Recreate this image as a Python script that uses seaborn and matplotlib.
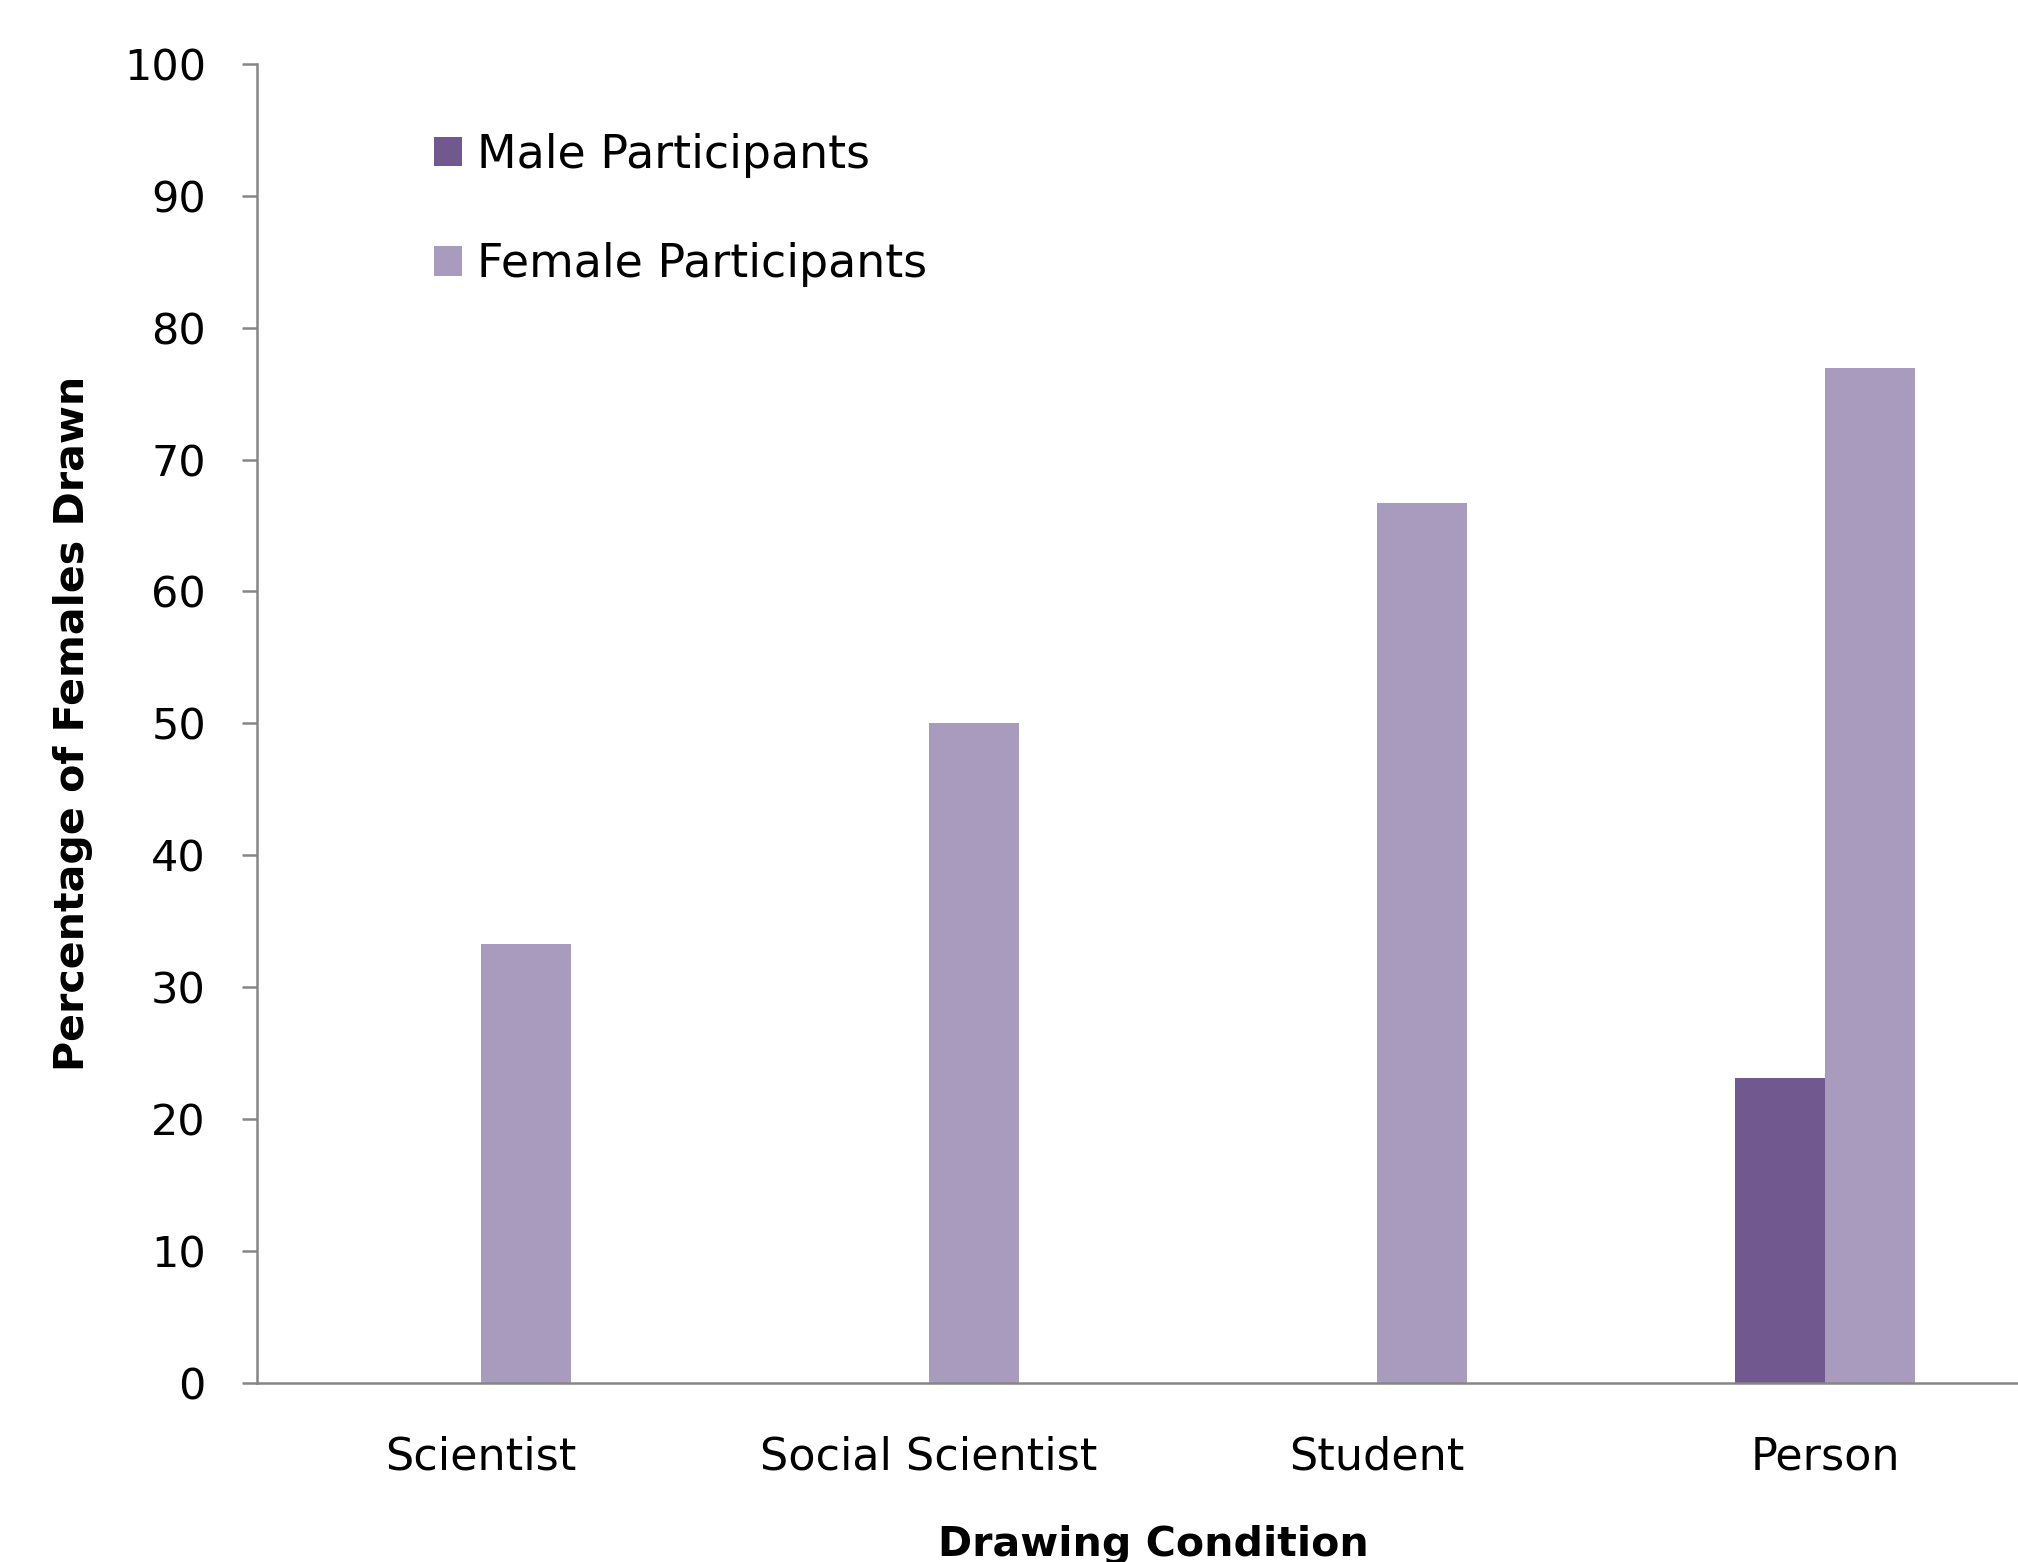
import pandas as pd
import matplotlib
matplotlib.use('Agg')
import matplotlib.pyplot as plt
import seaborn as sns

# %%
conditions = ['Scientist', 'Social Scientist', 'Student', 'Person']
male_pct = [0, 0, 0, 23.1]
female_pct = [33.3, 50, 66.7, 76.9]
groups = ['Male Participants', 'Female Participants']
colors = ['#71588F', '#A99BBD']

df = pd.DataFrame({
    'condition': conditions * 2,
    'pct': male_pct + female_pct,
    'group': [groups[0]] * len(conditions) + [groups[1]] * len(conditions),
})

# %%
sns.set_style('white')
plt.rcParams['font.family'] = ['DejaVu Sans']
plt.rcParams['text.color'] = 'black'
plt.rcParams['axes.labelcolor'] = 'black'

fig = plt.figure(figsize=(10.09, 7.81), dpi=200)
ax = fig.add_axes([0.1274, 0.1146, 0.888, 0.8446])

sns.barplot(
    data=df,
    x='condition',
    y='pct',
    hue='group',
    hue_order=groups,
    palette=colors,
    width=0.4,
    gap=0,
    saturation=1,
    linewidth=0,
    ax=ax
)

ax.set_xlim(-0.5, 3.5)
ax.set_ylim(0, 100)
ax.set_yticks(range(0, 101, 10))

spine_col = '#868686'
for side in ['top', 'right']:
    ax.spines[side].set_visible(False)
for side in ['left', 'bottom']:
    ax.spines[side].set_color(spine_col)
    ax.spines[side].set_linewidth(0.9)

ax.tick_params(axis='y', length=5.4, width=0.9, color=spine_col, pad=13,
               labelsize=15.5, labelcolor='black', left=True)
ax.tick_params(axis='x', length=0, pad=19, labelsize=16, labelcolor='black')

ax.set_xlabel('Drawing Condition', fontsize=14.8, fontweight='bold', color='black')
ax.set_ylabel('Percentage of Females Drawn', fontsize=14.8, fontweight='bold', color='black')
ax.xaxis.set_label_coords(0.5, -0.108)
ax.yaxis.set_label_coords(-0.0915, 0.5)

sns.move_legend(
    ax, 'upper left',
    bbox_to_anchor=(434 / 2018, 1 - 133 / 1562),
    bbox_transform=fig.transFigure,
    title=None,
    frameon=False,
    fontsize=16.5,
    handlelength=0.6,
    handleheight=0.6,
    handletextpad=0.33,
    labelspacing=1.4,
    borderpad=0,
    borderaxespad=0,
    labelcolor='black',
)

fig.savefig('out.png', dpi=200)
